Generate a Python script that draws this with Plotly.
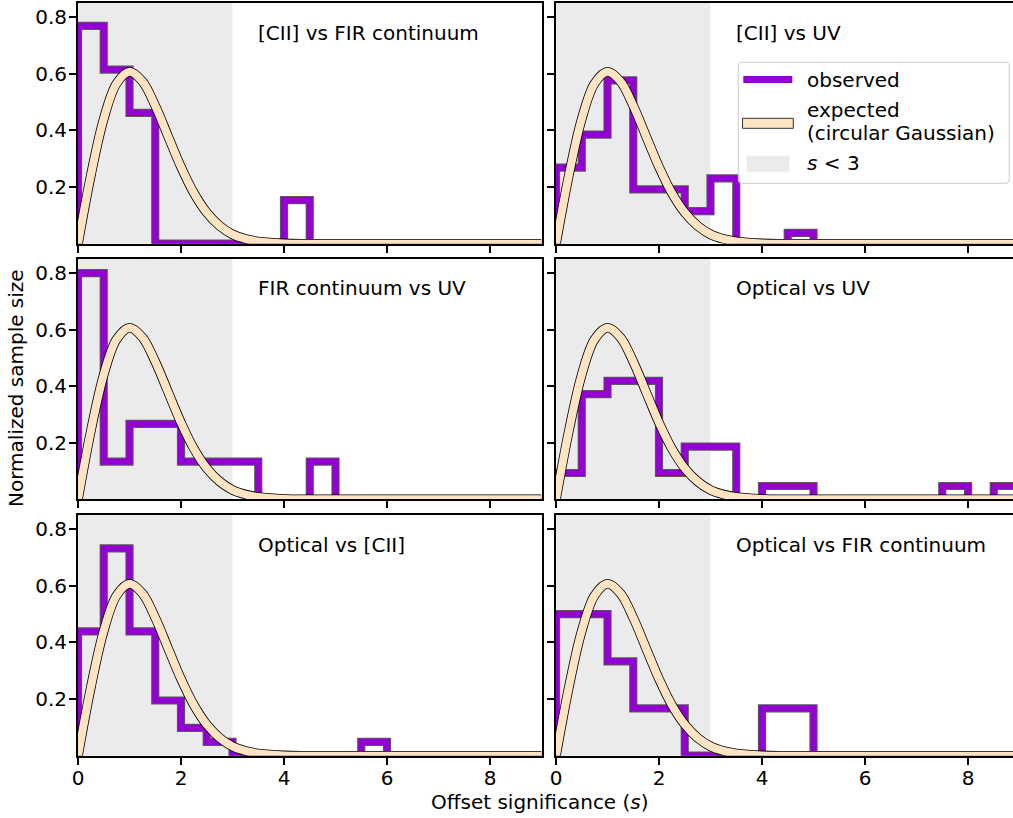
import plotly.graph_objects as go

# ---------------------------------------------------------------
# Offset-significance histograms (density per 0.5-wide bin, starting at s = 0)
# ---------------------------------------------------------------
bin_width = 0.5

panel_titles = [
    "[CII] vs FIR continuum", "[CII] vs UV",
    "FIR continuum vs UV", "Optical vs UV",
    "Optical vs [CII]", "Optical vs FIR continuum",
]

cii_fir = [0.769, 0.615, 0.462, 0, 0, 0, 0, 0, 0.154]
cii_uv = [0.269, 0.385, 0.577, 0.192, 0.192, 0.115, 0.231, 0, 0, 0.038]
fir_uv = [0.800, 0.133, 0.267, 0.267, 0.133, 0.133, 0.133, 0, 0, 0.133]
opt_uv = [0.093, 0.372, 0.419, 0.419, 0.093, 0.186, 0.186, 0, 0.047, 0.047,
          0, 0, 0, 0, 0, 0.047, 0, 0.047]
opt_cii = [0.439, 0.732, 0.439, 0.195, 0.098, 0.049, 0, 0, 0, 0, 0, 0.049]
opt_fir = [0.500, 0.500, 0.333, 0.167, 0.167, 0, 0, 0, 0.167, 0.167]

observed = [cii_fir, cii_uv, fir_uv, opt_uv, opt_cii, opt_fir]

# Expected distribution for a circular Gaussian offset
expected_s = [0, 0.25, 0.5, 0.75, 1.0, 1.25, 1.5, 1.75, 2.0, 2.25, 2.5, 2.75,
              3.0, 3.25, 3.5, 4.0, 4.5, 5.0, 6.0, 7.0, 8.0, 9.0]
expected_y = [0, 0.242, 0.441, 0.566, 0.607, 0.573, 0.487, 0.379, 0.271, 0.179,
              0.110, 0.063, 0.033, 0.017, 0.008, 0.001, 0.0, 0.0, 0.0, 0.0, 0.0, 0.0]

s_x_ticks = [0, 2, 4, 6, 8]
y_ticks = [0.2, 0.4, 0.6, 0.8]
y_tick_text = ["0.2", "0.4", "0.6", "0.8"]
shade_limit = 3

# ---------------------------------------------------------------
# Styling / geometry
# ---------------------------------------------------------------
W, H = 1013, 818
PURPLE = "#9400d3"
PURPLE_EDGE = "#5a5a5a"
BISQUE = "#ffe4c4"
SHADE = "#ebebeb"
FONT = "DejaVu Sans"
FS = 20


def fx(p):
    return p / W


def fy(p):
    return 1 - p / H


col_px = [(78, 541.5), (556, 1013)]
row_px = [(3, 243.7), (259, 499.3), (515, 755.7)]
x_scale = 51.5  # pixels per unit of s
x_max = [(c[1] - c[0]) / x_scale for c in col_px]

fig = go.Figure()

for i, heights in enumerate(observed):
    row, col = divmod(i, 2)
    ax = "" if i == 0 else str(i + 1)
    xr, yr = "x" + ax, "y" + ax

    edges = [k * bin_width for k in range(len(heights) + 1)]
    step_x = [edges[0]] + edges
    step_y = [0] + list(heights) + [0]

    # observed histogram outline: dark edge under purple stroke
    fig.add_trace(go.Scatter(x=step_x, y=step_y, mode="lines", line_shape="hv",
                             line=dict(color=PURPLE_EDGE, width=8.2),
                             hoverinfo="skip", xaxis=xr, yaxis=yr))
    fig.add_trace(go.Scatter(x=step_x, y=step_y, mode="lines", line_shape="hv",
                             line=dict(color=PURPLE, width=6.2),
                             hoverinfo="skip", xaxis=xr, yaxis=yr))
    # expected curve: black edge under bisque band
    fig.add_trace(go.Scatter(x=expected_s, y=expected_y, mode="lines",
                             line=dict(color="black", width=9.6, shape="spline", smoothing=1),
                             hoverinfo="skip", xaxis=xr, yaxis=yr))
    fig.add_trace(go.Scatter(x=expected_s, y=expected_y, mode="lines",
                             line=dict(color=BISQUE, width=8, shape="spline", smoothing=1),
                             hoverinfo="skip", xaxis=xr, yaxis=yr))

    # s < 3 shaded region
    fig.add_shape(type="rect", xref=xr, yref=yr + " domain", x0=0, x1=shade_limit,
                  y0=0, y1=1, fillcolor=SHADE, line_width=0, layer="below")

    # panel label
    fig.add_annotation(xref=xr, yref=yr + " domain", x=3.5, y=1 - 29.5 / 240.7,
                       xanchor="left", yanchor="middle", showarrow=False,
                       text=panel_titles[i], font=dict(family=FONT, size=FS, color="black"),
                       xshift=-2)

    x0p, x1p = col_px[col]
    y0p, y1p = row_px[row]
    fig.layout["xaxis" + ax] = dict(
        domain=[fx(x0p), fx(x1p)], range=[0, x_max[col]], anchor=yr,
        showline=True, linecolor="black", linewidth=2, mirror=True,
        ticks="outside", ticklen=7, tickwidth=1.5, tickcolor="black",
        tickvals=s_x_ticks, showticklabels=(row == 2), ticklabelstandoff=-4,
        tickfont=dict(family=FONT, size=FS, color="black"),
        showgrid=False, zeroline=False, fixedrange=True, automargin=False,
    )
    fig.layout["yaxis" + ax] = dict(
        domain=[fy(y1p), fy(y0p)], range=[0, 0.85], anchor=xr,
        showline=True, linecolor="black", linewidth=2, mirror=(col == 0),
        ticks="outside", ticklen=7, tickwidth=1.5, tickcolor="black",
        tickvals=y_ticks, ticktext=y_tick_text, showticklabels=(col == 0),
        ticklabelstandoff=-2,
        tickfont=dict(family=FONT, size=FS, color="black"),
        showgrid=False, zeroline=False, fixedrange=True, automargin=False,
    )

# ---------------------------------------------------------------
# Legend box in the [CII] vs UV panel
# ---------------------------------------------------------------
lx0, lx1, ly0, ly1, r = 738.3, 1009.3, 62.3, 183.3, 4


def P(x, y):
    return f"{fx(x):.5f},{fy(y):.5f}"


box_path = (f"M {P(lx0 + r, ly0)} L {P(lx1 - r, ly0)} Q {P(lx1, ly0)} {P(lx1, ly0 + r)} "
            f"L {P(lx1, ly1 - r)} Q {P(lx1, ly1)} {P(lx1 - r, ly1)} "
            f"L {P(lx0 + r, ly1)} Q {P(lx0, ly1)} {P(lx0, ly1 - r)} "
            f"L {P(lx0, ly0 + r)} Q {P(lx0, ly0)} {P(lx0 + r, ly0)} Z")
fig.add_shape(type="path", xref="paper", yref="paper", path=box_path,
              fillcolor="rgba(255,255,255,0.8)", line=dict(color="#cccccc", width=1),
              layer="above")
fig.add_shape(type="line", xref="paper", yref="paper",
              x0=fx(743.3), x1=fx(792.3), y0=fy(79.5), y1=fy(79.5),
              line=dict(color=PURPLE, width=7), layer="above")
fig.add_shape(type="rect", xref="paper", yref="paper",
              x0=fx(742.5), x1=fx(793.3), y0=fy(128.3), y1=fy(118.3),
              fillcolor=BISQUE, line=dict(color="#333333", width=1), layer="above")
fig.add_shape(type="rect", xref="paper", yref="paper",
              x0=fx(746.7), x1=fx(789.3), y0=fy(171.7), y1=fy(155.7),
              fillcolor=SHADE, line_width=0, layer="above")

legend_items = [("observed", 80), ("expected", 110), ("(circular Gaussian)", 133.5),
                ("<i>s</i> &lt; 3", 163)]
for txt, yc in legend_items:
    fig.add_annotation(xref="paper", yref="paper", x=fx(804.5), y=fy(yc),
                       xanchor="left", yanchor="middle", showarrow=False, text=txt,
                       font=dict(family=FONT, size=FS, color="black"))

# ---------------------------------------------------------------
# Shared axis titles
# ---------------------------------------------------------------
fig.add_annotation(xref="paper", yref="paper", x=fx(540), y=fy(802),
                   xanchor="center", yanchor="middle", showarrow=False,
                   text="Offset significance (<i>s</i>)",
                   font=dict(family=FONT, size=FS, color="black"))
fig.add_annotation(xref="paper", yref="paper", x=fx(16), y=fy(388),
                   xanchor="center", yanchor="middle", showarrow=False, textangle=-90,
                   text="Normalized sample size",
                   font=dict(family=FONT, size=FS, color="black"))

fig.update_layout(
    width=W, height=H,
    margin=dict(l=0, r=0, t=0, b=0, pad=0, autoexpand=False),
    paper_bgcolor="white", plot_bgcolor="white",
    showlegend=False,
    font=dict(family=FONT, size=FS, color="black"),
)

fig.write_html("out.html", config={"displayModeBar": False})
